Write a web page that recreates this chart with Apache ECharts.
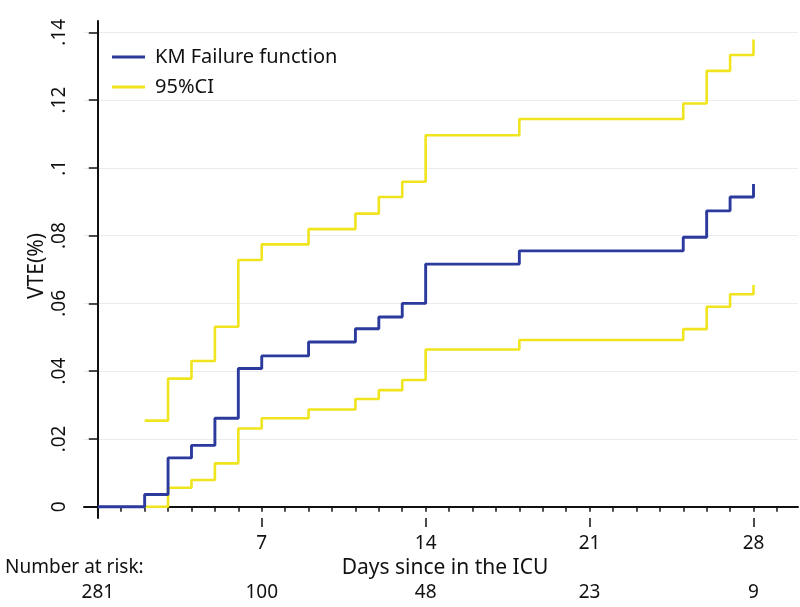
<!DOCTYPE html>
<html>
<head>
<meta charset="utf-8">
<script src="https://cdn.jsdelivr.net/npm/echarts@6/dist/echarts.min.js"></script>
<style>
html,body{margin:0;padding:0;background:#fff;}
#chart{width:800px;height:607px;}
</style>
</head>
<body>
<div id="chart"></div>
<script>
// Kaplan-Meier failure function (day, cumulative VTE)
const kmDays  = [0, 2, 3, 4, 5, 6, 7, 9, 11, 12, 13, 14, 18, 25, 26, 27, 28, 28];
const kmValues = [0, 0.0036, 0.0144, 0.0181, 0.0261, 0.0408, 0.0445, 0.0486, 0.0525, 0.0560, 0.0600, 0.0716, 0.0755, 0.0795, 0.0873, 0.0914, 0.0914, 0.0952];
// 95% confidence interval bounds
const ciDays  = [2, 3, 4, 5, 6, 7, 9, 11, 12, 13, 14, 18, 25, 26, 27, 28, 28];
const ciUpper = [0.0254, 0.0378, 0.0430, 0.0531, 0.0728, 0.0774, 0.0819, 0.0865, 0.0914, 0.0959, 0.1096, 0.1144, 0.1190, 0.1286, 0.1333, 0.1333, 0.1379];
const ciLower = [0, 0.0056, 0.0079, 0.0128, 0.0231, 0.0261, 0.0287, 0.0318, 0.0344, 0.0374, 0.0464, 0.0492, 0.0524, 0.0590, 0.0627, 0.0627, 0.0654];
// axis ticks
const xLabelDays = [7, 14, 21, 28];
const xMinorDays = [0,1,2,3,4,5,6,7,8,9,10,11,12,13,14,15,16,17,18,19,20,21,22,23,24,25,26,27,28,29];
const yTicks = [0, 0.02, 0.04, 0.06, 0.08, 0.1, 0.12, 0.14];
// number at risk
const riskDays = [0, 7, 14, 21, 28];
const riskCounts = [281, 100, 48, 23, 9];

const FONT = 'Noto Sans';
const pair = (xs, ys) => xs.map((x, i) => [x, ys[i]]);

const chart = echarts.init(document.getElementById('chart'), null, {renderer: 'canvas'});
const xMin = -0.59, xMax = 29.9;
chart.setOption({
  animation: false,
  backgroundColor: '#ffffff',
  textStyle: {fontFamily: FONT},
  grid: {left: 84, right: 2, top: 21, bottom: 89, containLabel: false},
  legend: {
    orient: 'vertical', left: 107, top: 42, itemGap: 10,
    itemWidth: 33, itemHeight: 3, icon: 'rect',
    data: ['KM Failure function', '95%CI'],
    textStyle: {fontSize: 20, color: '#111', fontFamily: FONT, padding: [0, 0, 0, 5]}
  },
  xAxis: [
    {
      type: 'value', min: xMin, max: xMax, position: 'bottom',
      name: 'Days since in the ICU', nameLocation: 'middle', nameGap: 33,
      nameTextStyle: {fontSize: 21, color: '#111', fontFamily: FONT, padding: [0, 0, 0, 8]},
      axisLine: {show: true, lineStyle: {color: '#111', width: 2}},
      axisTick: {show: true, length: 5, customValues: xMinorDays, lineStyle: {color: '#111', width: 1.5}},
      axisLabel: {show: true, customValues: xLabelDays, margin: 16, fontSize: 19, color: '#111', fontFamily: FONT},
      splitLine: {show: false}
    },
    {
      type: 'value', min: xMin, max: xMax, position: 'bottom',
      axisLine: {show: false},
      axisTick: {show: true, length: 9, customValues: xLabelDays, lineStyle: {color: '#111', width: 1.5}},
      axisLabel: {show: false},
      splitLine: {show: false}
    },
    {
      type: 'value', min: xMin, max: xMax, position: 'bottom',
      axisLine: {show: false},
      axisTick: {show: false},
      axisLabel: {
        show: true, customValues: riskDays, margin: 65, fontSize: 19, color: '#111', fontFamily: FONT,
        formatter: v => String(riskCounts[riskDays.indexOf(v)])
      },
      splitLine: {show: false}
    }
  ],
  yAxis: {
    type: 'value', min: -0.00333, max: 0.14333,
    axisLine: {show: true, lineStyle: {color: '#111', width: 2}},
    axisTick: {show: true, length: 9, customValues: yTicks, lineStyle: {color: '#111', width: 1.5}},
    axisLabel: {
      show: true, customValues: yTicks, rotate: 90, margin: 15, fontSize: 19, color: '#111', fontFamily: FONT,
      formatter: v => v === 0 ? '0' : String(v).replace(/^0/, '')
    },
    splitLine: {show: true, lineStyle: {color: '#eaeaf0', width: 1}}
  },
  graphic: [
    {type: 'text', left: 5, top: 558, style: {text: 'Number at risk:', fontSize: 19, fill: '#111', fontFamily: FONT}},
    {type: 'text', x: 37, y: 266, rotation: Math.PI / 2,
     style: {text: 'VTE(%)', fontSize: 21, fill: '#111', fontFamily: FONT, align: 'center', verticalAlign: 'middle'}}
  ],
  series: [
    {
      name: '95%CI', type: 'line', step: 'end', showSymbol: false, symbol: 'none',
      data: pair(ciDays, ciUpper), lineStyle: {color: '#f0e41c', width: 2.6}, itemStyle: {color: '#f0e41c'}, z: 2
    },
    {
      name: '95%CI', type: 'line', step: 'end', showSymbol: false, symbol: 'none',
      data: pair(ciDays, ciLower), lineStyle: {color: '#f0e41c', width: 2.6}, itemStyle: {color: '#f0e41c'}, z: 2
    },
    {
      name: 'KM Failure function', type: 'line', step: 'end', showSymbol: false, symbol: 'none',
      data: pair(kmDays, kmValues), lineStyle: {color: '#2b3a9c', width: 2.9}, itemStyle: {color: '#2b3a9c'}, z: 3
    }
  ]
});
</script>
</body>
</html>
